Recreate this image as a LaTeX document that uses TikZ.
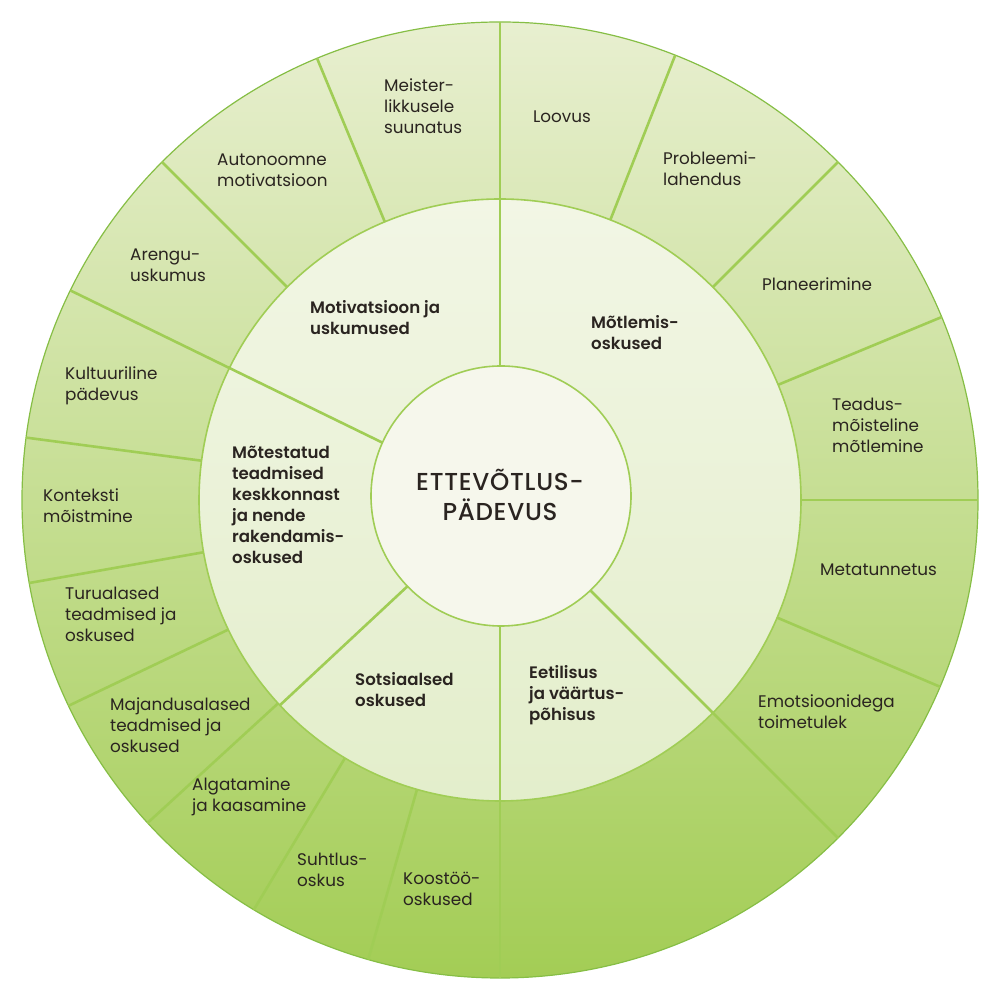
\documentclass[tikz,border=0pt]{standalone}
\usepackage{fontspec}
\setmainfont{Poppins}[BoldFont={Poppins SemiBold}]
\newfontfamily\centerfont{Poppins Medium}[LetterSpace=3]
\definecolor{outtop}{HTML}{E8EFD0}
\definecolor{outmid}{HTML}{CFE3A6}
\definecolor{outbot}{HTML}{A3CD55}
\definecolor{midtop}{HTML}{F2F6E5}
\definecolor{midbot}{HTML}{E3EECB}
\definecolor{incol}{HTML}{F6F7EC}
\definecolor{divc}{HTML}{A0CD55}
\definecolor{rimc}{HTML}{86BE45}
\definecolor{txt}{HTML}{2A2420}
\begin{document}
\begin{tikzpicture}[x=1pt,y=1pt,
  lbl/.style={anchor=west,inner sep=0pt,align=left,text=txt,font=\fontsize{16.8}{21}\selectfont},
  blbl/.style={lbl,font=\fontsize{16.6}{21}\selectfont\bfseries},
  divline/.style={draw=divc,line width=2.6pt},
  ringline/.style={draw=divc,line width=1.6pt}]
\useasboundingbox (0,0) rectangle (1000,1000);
% outer disk
\shade[top color=outtop,middle color=outmid,bottom color=outbot] (500,500) circle (478);
\draw[rimc,line width=1.2pt] (500,500) circle (478);
% middle disk
\shade[top color=midtop,bottom color=midbot] (500,500) circle (301);
\draw[ringline] (500,500) circle (301);
\begin{scope}[shift={(500,500)}]
  \foreach \a in {90,68.5,45,22.5,0,-23,-45,-90,-106,-121,-137.5,-154.5,-170,172.5,154,135,112.5}
    \draw[divline] (\a:301) -- (\a:478);
  \foreach \a in {90,154,223,270,315}
    \draw[divline] (\a:120) -- (\a:301);
\end{scope}
% inner disk
\filldraw[fill=incol,draw=divc,line width=1.6pt] (501,504) circle (130);
\node[align=center,inner sep=0pt,text=txt,font=\centerfont\fontsize{24.5}{30}\selectfont] (center) at (500,505) {ETTEVÕTLUS-\\PÄDEVUS};
% middle ring labels
\node[blbl] (motiv) at (310,682.5) {Motivatsioon ja\\uskumused};
\node[blbl] (motest) at (232,495) {Mõtestatud\\teadmised\\keskkonnast\\ja nende\\rakendamis-\\oskused};
\node[blbl] (motlem) at (591,667.5) {Mõtlemis-\\oskused};
\node[blbl] (eetil) at (529,305) {Eetilisus\\ja väärtus-\\põhisus};
\node[blbl] (sots) at (355,310) {Sotsiaalsed\\oskused};
% outer ring labels
\node[lbl] (meister) at (384,894) {Meister-\\likkusele\\suunatus};
\node[lbl] (auton) at (217,829.5) {Autonoomne\\motivatsioon};
\node[lbl] (arengu) at (130,734.5) {Arengu-\\uskumus};
\node[lbl] (kultuur) at (65,614.5) {Kultuuriline\\pädevus};
\node[lbl] (kontekst) at (43,494.5) {Konteksti\\mõistmine};
\node[lbl] (turu) at (65,386) {Turualased\\teadmised ja\\oskused};
\node[lbl] (majandus) at (110,275) {Majandusalased\\teadmised ja\\oskused};
\node[lbl] (algat) at (192,203.5) {Algatamine\\ja kaasamine};
\node[lbl] (suhtlus) at (297,130.5) {Suhtlus-\\oskus};
\node[lbl] (koostoo) at (403,111.5) {Koostöö-\\oskused};
\node[lbl] (loovus) at (533,883) {Loovus};
\node[lbl] (probl) at (663,831) {Probleemi-\\lahendus};
\node[lbl] (plan) at (762,716) {Planeerimine};
\node[lbl] (teadus) at (832,575) {Teadus-\\mõisteline\\mõtlemine};
\node[lbl] (meta) at (820,430) {Metatunnetus};
\node[lbl] (emots) at (758,288) {Emotsioonidega\\toimetulek};
\end{tikzpicture}
\end{document}
